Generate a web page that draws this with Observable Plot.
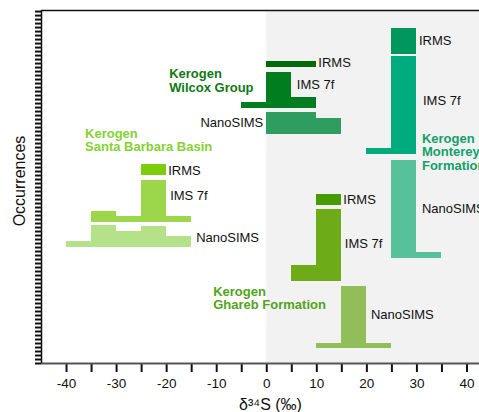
<!DOCTYPE html>
<html><head><meta charset="utf-8">
<script src="https://cdn.jsdelivr.net/npm/d3@7"></script>
<script src="https://cdn.jsdelivr.net/npm/@observablehq/plot@0.6"></script>
<style>html,body{margin:0;padding:0;background:#fff;overflow:hidden}</style>
</head><body><div id="chart"></div>
<script>
// ---- data ----
const binWidth = 5; // ‰
const histGroup = ["Wilcox","Wilcox","Wilcox","Monterey","Monterey","Monterey","SantaBarbara","SantaBarbara","SantaBarbara","Ghareb","Ghareb","Ghareb"];
const histMethod = ["IRMS","IMS 7f","NanoSIMS","IRMS","IMS 7f","NanoSIMS","IRMS","IMS 7f","NanoSIMS","IRMS","IMS 7f","NanoSIMS"];
// vertical stacking offset of each histogram (occurrences)
const histOffset = [55.6, 47.9, 43.0, 58.0, 39.2, 19.7, 35.25, 26.5, 21.8, 29.7, 15.4, 2.8];
// bin starts (‰) and counts
const histBins = [[0,5],[-5,0,5],[0,5,10],[25],[20,25],[25,30],[-25],[-35,-30,-25,-20],[-40,-35,-30,-25,-20],[10],[5,10],[10,15,20]];
const histCounts = [[1,1],[1,6.7,2],[4,4,3],[4.8],[1.2,18.4],[18.3,1.1],[2],[2,1,7.8,1],[1,4,3,3.9,2],[2],[3,13.4],[1,11.6,1]];
const histColor = ["#006a08","#007d1e","#2e9d5f","#00975f","#00ab7d","#57c19c","#7dcd0a","#9bd64b","#b5e188","#479b00","#6dab19","#92be5a"];
// method label anchors (‰, occurrences)
const methodLabelX = [10.3, 6.0, -0.7, 30.4, 31.2, 31.0, -19.7, -19.3, -14.1, 15.3, 15.6, 20.8];
const methodLabelY = [56.4, 52.2, 45.1, 60.5, 49.2, 29.0, 36.2, 31.4, 23.6, 30.7, 22.5, 9.2];
const methodLabelAnchor = ["start","start","end","start","start","start","start","start","start","start","start","start"];
// group labels
const groupNames = ["Kerogen\nWilcox Group","Kerogen\nMonterey\nFormation","Kerogen\nSanta Barbara Basin","Kerogen\nGhareb Formation"];
const groupLabelX = [-19.5, 31.0, -36.3, -10.7];
const groupLabelY = [55.3, 43.2, 44.1, 14.5];
const groupColor = ["#0f7a14","#13a06c","#86d134","#52a31a"];
const xDomain = [-45, 42.5];
const yMax = 66.2;
const xTicks = d3.range(-40, 41, 5);
const yTicks = d3.range(0, yMax, 0.75);

// ---- build tables ----
const bars = [];
histBins.forEach((bins, i) => bins.forEach((b, j) => bars.push({
  x1: b, x2: b + binWidth, y1: histOffset[i], y2: histOffset[i] + histCounts[i][j], fill: histColor[i]
})));
const mLabels = histMethod.map((m, i) => ({text: m, x: methodLabelX[i], y: methodLabelY[i], anchor: methodLabelAnchor[i]}));
const gLabels = groupNames.map((g, i) => ({text: g, x: groupLabelX[i], y: groupLabelY[i], fill: groupColor[i]}));

const chart = Plot.plot({
  width: 479, height: 412,
  marginLeft: 41, marginRight: 0, marginTop: 10, marginBottom: 49,
  style: {fontFamily: "'Liberation Sans', Arial, Helvetica, sans-serif", fontSize: "13px", background: "#fff"},
  x: {domain: xDomain},
  y: {domain: [0, yMax]},
  marks: [
    Plot.rect([{x1: 0, x2: xDomain[1], y1: 0, y2: yMax - 0.15}], {x1: "x1", x2: "x2", y1: "y1", y2: "y2", fill: "#f2f2f2"}),
    Plot.rect(bars, {x1: "x1", x2: "x2", y1: "y1", y2: "y2", fill: "fill", shapeRendering: "crispEdges"}),
    Plot.text(mLabels.filter(d => d.anchor === "start"), {x: "x", y: "y", text: "text", textAnchor: "start", fill: "#111", fontSize: 13}),
    Plot.text(mLabels.filter(d => d.anchor === "end"), {x: "x", y: "y", text: "text", textAnchor: "end", fill: "#111", fontSize: 13}),
    Plot.text(gLabels, {x: "x", y: "y", text: "text", fill: "fill", textAnchor: "start", lineAnchor: "top", lineHeight: 1.04, fontWeight: "bold", fontSize: 13}),
    Plot.axisX({ticks: xTicks, tickFormat: d => d % 10 === 0 ? String(d) : "", tickSize: 9, tickPadding: 6, strokeWidth: 2, stroke: "#111", fontSize: 13.5, fill: "#111", label: null}),
    Plot.axisY({ticks: yTicks, tickFormat: () => "", tickSize: 6, strokeWidth: 2, stroke: "#111", label: null}),
    Plot.ruleY([0], {stroke: "#555", strokeWidth: 2}),
    Plot.ruleY([yMax], {stroke: "#111", strokeWidth: 1.5}),
    Plot.ruleX([xDomain[0]], {stroke: "#111", strokeWidth: 1.5}),
    Plot.text(["δ³⁴S (‰)"], {frameAnchor: "bottom", dx: 10, dy: 41, lineAnchor: "middle", fontSize: 16, fill: "#111"}),
    Plot.text(["Occurrences"], {frameAnchor: "left", textAnchor: "middle", dx: -22, dy: -6, rotate: -90, fontSize: 16, fill: "#111"})
  ]
});
document.getElementById("chart").appendChild(chart);
</script>
</body></html>
